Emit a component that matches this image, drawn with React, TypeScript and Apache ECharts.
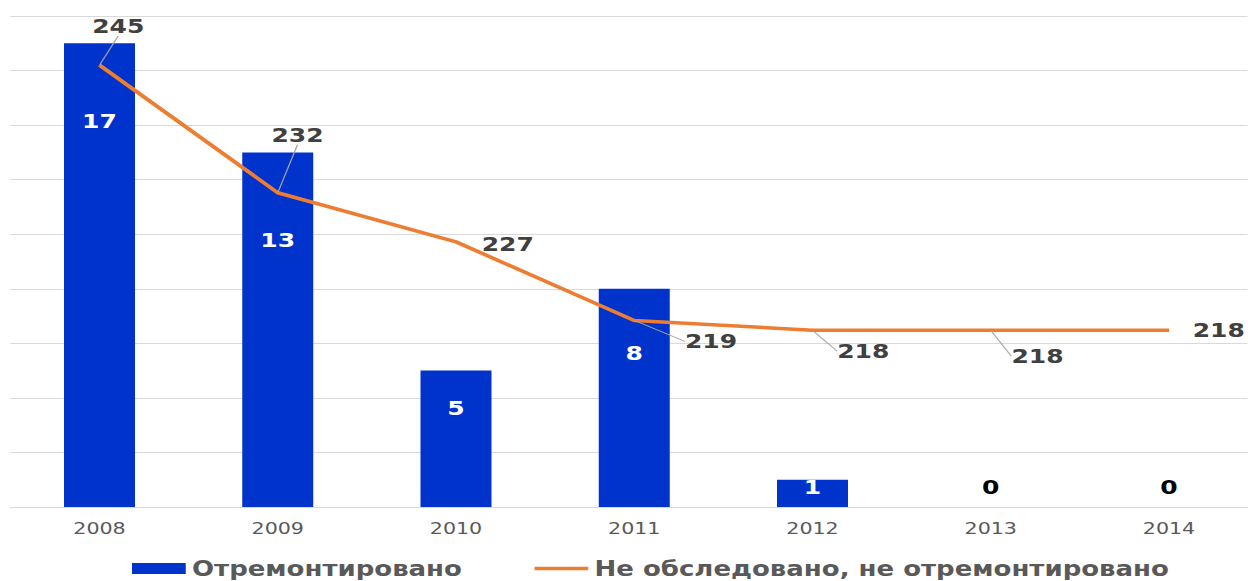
import React, { useEffect, useRef } from 'react';
import * as echarts from 'echarts';

// ---- data ----
const years = ['2008', '2009', '2010', '2011', '2012', '2013', '2014'];
const repaired = [17, 13, 5, 8, 1, 0, 0];
const notRepaired = [245, 232, 227, 219, 218, 218, 218];
const seriesNames = ['Отремонтировано', 'Не обследовано, не отремонтировано'];

// ---- layout (the reference is horizontally stretched) ----
const SX = 1.25;
const W = 1248 / SX;
const CW = 1264 / SX; // plot runs slightly past the right edge of the picture
const H = 581;
const barLabelLift = [376, 257, 89, 144, 10, 10, 10];
const lineLabelShift = [[-31, -39], [-30, -58], [2, 2], [27, 21], [1, 21], [-3, 26], [0, 0]];
const lineLeader = [true, true, false, true, true, true, false];

const FONT = 'DejaVu Sans';

export default function App() {
  const ref = useRef<HTMLDivElement>(null);
  useEffect(() => {
    document.body.style.margin = '0';
    const chart = echarts.init(ref.current!, null, { renderer: 'svg', width: CW, height: H });
    chart.setOption({
      animation: false,
      grid: { left: 8.3, top: 16, width: 998.2, height: 491 },
      legend: {
        top: 558,
        left: 105.6,
        padding: 0,
        itemGap: 58,
        itemWidth: 43,
        itemHeight: 11,
        textStyle: { color: '#595959', fontSize: 20.8, fontWeight: 'bold', fontFamily: FONT },
        data: [
          { name: seriesNames[0], icon: 'rect' },
          { name: seriesNames[1], icon: 'path://M0,0H44V3.5H0Z' },
        ],
      },
      xAxis: {
        type: 'category',
        data: years,
        axisLine: { lineStyle: { color: '#D9D9D9', width: 1 } },
        axisTick: { show: false },
        axisLabel: { color: '#595959', fontSize: 16.5, fontFamily: FONT, margin: 13 },
      },
      yAxis: [
        {
          type: 'value',
          min: 0,
          max: 18,
          interval: 2,
          axisLabel: { show: false },
          axisLine: { show: false },
          axisTick: { show: false },
          splitLine: { lineStyle: { color: '#D9D9D9', width: 1 } },
        },
        {
          type: 'value',
          min: 200,
          max: 250,
          show: false,
          splitLine: { show: false },
        },
      ],
      series: [
        {
          name: seriesNames[0],
          type: 'bar',
          barWidth: 56.8,
          itemStyle: { color: '#0033CC' },
          label: {
            show: true,
            position: 'insideBottom',
            fontSize: 20,
            fontWeight: 'bold',
            fontFamily: FONT,
          },
          data: repaired.map((v, i) => ({
            value: v,
            label: { distance: barLabelLift[i], color: v > 0 ? '#FFFFFF' : '#000000' },
          })),
        },
        {
          name: seriesNames[1],
          type: 'line',
          yAxisIndex: 1,
          symbol: 'circle',
          symbolSize: 1,
          itemStyle: { color: '#ED7D31' },
          lineStyle: { color: '#ED7D31', width: 3.5 },
          label: {
            show: true,
            position: 'right',
            distance: 18.4,
            color: '#404040',
            fontSize: 20,
            fontWeight: 'bold',
            fontFamily: FONT,
          },
          labelLine: { show: true, lineStyle: { color: '#A6A6A6', width: 1 } },
          labelLayout: (p: any) => ({
            dx: lineLabelShift[p.dataIndex][0] / SX,
            dy: lineLabelShift[p.dataIndex][1],
          }),
          data: notRepaired.map((v, i) => ({ value: v, labelLine: { show: lineLeader[i] } })),
        },
      ],
    });
    return () => chart.dispose();
  }, []);
  return (
    <div
      style={{
        position: 'absolute',
        left: 0,
        top: 0,
        width: W,
        height: H,
        overflow: 'hidden',
        transform: `scaleX(${SX})`,
        transformOrigin: '0 0',
      }}
    >
      <div ref={ref} style={{ width: CW, height: H }} />
    </div>
  );
}
